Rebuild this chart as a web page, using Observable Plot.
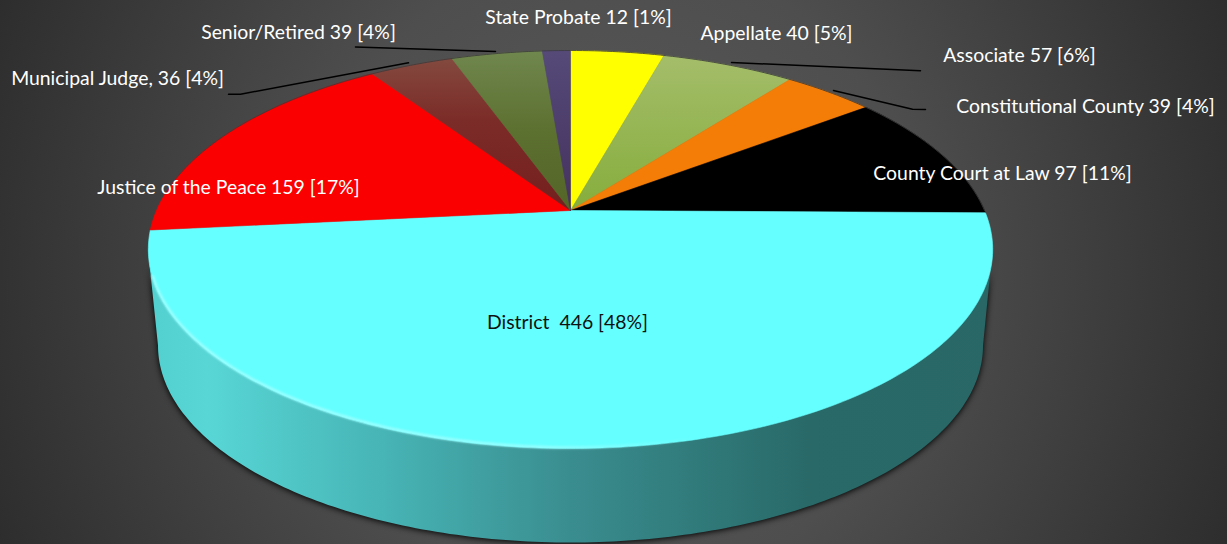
<!DOCTYPE html>
<html>
<head>
<meta charset="utf-8">
<script src="https://cdn.jsdelivr.net/npm/d3@7"></script>
<script src="https://cdn.jsdelivr.net/npm/@observablehq/plot@0.6"></script>
<style>html,body{margin:0;padding:0;background:#333;overflow:hidden}svg{display:block}</style>
</head>
<body>
<script>
// data: clockwise from twelve o'clock
const categories = ["Appellate","Associate","Constitutional County","County Court at Law","District","Justice of the Peace","Municipal Judge","Senior/Retired","State Probate"];
const judges = [40,57,39,97,446,159,36,39,12];
const labels = ["Appellate 40 [5%]","Associate 57 [6%]","Constitutional County 39 [4%]","County Court at Law 97 [11%]","District  446 [48%]","Justice of the Peace 159 [17%]","Municipal Judge, 36 [4%]","Senior/Retired 39 [4%]","State Probate 12 [1%]"];

// styles and layout
const sliceFills = ["#ffff00","url(#gGreen)","#f47d08","#000000","#66ffff","#fb0000","url(#gRed)","url(#gOlive)","url(#gPurple)"];
const labelColors = ["#fff","#fff","#fff","#fff","#111","#fff","#fff","#fff","#fff"];
const labelX = [776,1019,1085,1002,567,228,117,298,578];
const labelY = [33,55,106,173,322,187,78,32,17];
const leaderX = [[355,495],[228,240,408],[731,920],[833,912,925]];
const leaderY = [[46.5,51],[93.7,93.7,62.3],[62,70.3],[90,108.7,109]];
const W = 1227, H = 544;

// tilted-disc perspective: unit circle -> picture
const cx = 570, A = 414, a = 150.2, b = 210, c = -0.196;
const rim = deg => {
  const t = deg * Math.PI / 180, u = Math.sin(t), v = -Math.cos(t), w = 1 + c * v;
  return {px: cx + A * u / w, py: (a * v + b) / w};
};
const total = d3.sum(judges);
let acc = 0;
const sliceRows = [];
categories.forEach((name, i) => {
  const a0 = acc / total * 360; acc += judges[i];
  const a1 = acc / total * 360;
  sliceRows.push({name, px: cx, py: b});
  const n = Math.max(2, Math.ceil((a1 - a0) / 1));
  for (let k = 0; k <= n; k++) sliceRows.push({name, ...rim(a0 + (a1 - a0) * k / n)});
  sliceRows.push({name, px: cx, py: b});
});

// thin dark outline of the back of the disc
const backRows = d3.range(-85, 91, 1).map(d => rim(d));

// side wall: lower half of the base ellipse + top ellipse's extremes
const wallRows = [];
for (let d = 180; d >= 0; d -= 1) {
  const t = d * Math.PI / 180;
  wallRows.push({px: cx + 412.5 * Math.cos(t), py: 345 + 197 * Math.sin(t)});
}
wallRows.push({px: 992, py: 249});
for (let d = 0; d <= 180; d += 1) {
  const t = d * Math.PI / 180;
  wallRows.push({px: cx + 422 * Math.cos(t), py: 249 + 199 * Math.sin(t)});
}
wallRows.push({px: 147.5, py: 249});

// lit edge along front of the top face
const edgeRows = [];
for (let d = 172; d >= 60; d -= 1) {
  const t = d * Math.PI / 180;
  edgeRows.push({px: cx + 422 * Math.cos(t), py: 248 + 199 * Math.sin(t)});
}

const leaderRows = leaderX.flatMap((xs, i) => xs.map((px, k) => ({id: i, px, py: leaderY[i][k]})));
const labelRows = labels.map((label, i) => ({label, px: labelX[i], py: labelY[i], color: labelColors[i]}));

const defs = () => d3.create("svg:defs").html(`
  <linearGradient id="gWall" gradientUnits="userSpaceOnUse" x1="147" x2="992" y1="0" y2="0">
    <stop offset="0" stop-color="#52cfcf"/><stop offset="0.07" stop-color="#58d6d6"/>
    <stop offset="0.28" stop-color="#47b4b5"/><stop offset="0.5" stop-color="#3a8d8f"/>
    <stop offset="0.78" stop-color="#296a69"/><stop offset="1" stop-color="#286766"/>
  </linearGradient>
  <linearGradient id="gEdge" gradientUnits="userSpaceOnUse" x1="160" x2="790" y1="0" y2="0">
    <stop offset="0" stop-color="#aaffff" stop-opacity="0.9"/><stop offset="0.6" stop-color="#aaffff" stop-opacity="0.8"/>
    <stop offset="0.85" stop-color="#aaffff" stop-opacity="0"/>
  </linearGradient>
  <linearGradient id="gGreen" gradientUnits="userSpaceOnUse" x1="0" x2="0" y1="55" y2="210">
    <stop offset="0" stop-color="#a4bd6a"/><stop offset="1" stop-color="#86ad3c"/>
  </linearGradient>
  <linearGradient id="gRed" gradientUnits="userSpaceOnUse" x1="0" x2="0" y1="58" y2="210">
    <stop offset="0" stop-color="#83493f"/><stop offset="0.4" stop-color="#7c2c28"/><stop offset="1" stop-color="#741f1f"/>
  </linearGradient>
  <linearGradient id="gOlive" gradientUnits="userSpaceOnUse" x1="0" x2="0" y1="52" y2="210">
    <stop offset="0" stop-color="#6f864d"/><stop offset="0.5" stop-color="#5c7030"/><stop offset="1" stop-color="#546528"/>
  </linearGradient>
  <linearGradient id="gPurple" gradientUnits="userSpaceOnUse" x1="0" x2="0" y1="50" y2="210">
    <stop offset="0" stop-color="#554a78"/><stop offset="1" stop-color="#45315f"/>
  </linearGradient>`).node();

const chart = Plot.plot({
  width: W, height: H, margin: 0,
  x: {domain: [0, W], range: [0, W], axis: null},
  y: {domain: [0, H], range: [0, H], axis: null},
  color: {type: "ordinal", domain: categories, range: sliceFills},
  style: {background: "radial-gradient(ellipse 680px 720px at 50% 50%, #5a5a5a 0%, #4e4e4e 45%, #2c2c2c 100%)", overflow: "hidden"},
  marks: [
    defs,
    Plot.line(wallRows, {x: "px", y: "py", fill: "url(#gWall)", stroke: "none", imageFilter: "drop-shadow(0 1px 3px #000)"}),
    Plot.line(sliceRows, {x: "px", y: "py", z: "name", fill: "name", stroke: "name", strokeWidth: 0.6}),
    Plot.line(backRows, {x: "px", y: "py", stroke: "#3a3a3a", strokeWidth: 0.8}),
    Plot.line(edgeRows, {x: "px", y: "py", stroke: "url(#gEdge)", strokeWidth: 2.5, imageFilter: "blur(0.8px)"}),
    Plot.line(leaderRows, {x: "px", y: "py", z: "id", stroke: "#000", strokeWidth: 1.5}),
    Plot.text(labelRows, {x: "px", y: "py", text: "label", fill: "color", textAnchor: "middle", lineAnchor: "middle", fontFamily: "Lato", fontSize: 19.4})
  ]
});
document.body.appendChild(chart);
</script>
</body>
</html>
